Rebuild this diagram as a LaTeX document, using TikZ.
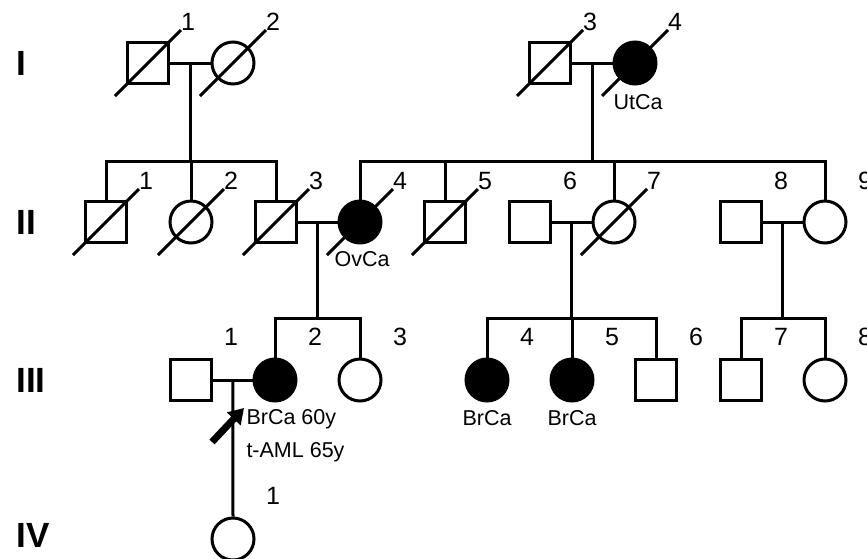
\documentclass[tikz,border=0pt]{standalone}
\usepackage{fontspec}
\setmainfont{Liberation Sans}
\usetikzlibrary{calc,arrows.meta}
\newcommand\deceased[1]{\draw ([shift={(-33,33)}]#1.center) -- ([shift={(33,-33)}]#1.center);}
\begin{document}
\begin{tikzpicture}[x=1pt,y=-1pt,line width=3pt,
  male/.style={draw,rectangle,minimum size=41pt,inner sep=0pt},
  female/.style={draw,circle,minimum size=42pt,inner sep=0pt},
  affected/.style={fill=black},
  num/.style={font=\fontsize{25}{30}\selectfont,inner sep=0pt},
  note/.style={font=\fontsize{21.5}{25}\selectfont,inner sep=0pt},
  gen/.style={font=\fontsize{35}{40}\selectfont\bfseries,inner sep=0pt,anchor=west}]
\useasboundingbox (0,0) rectangle (867,558);

% generation labels
\node[gen] (gI)   at (15,63)  {I};
\node[gen] (gII)  at (15,222) {II};
\node[gen] (gIII) at (15,380) {III};
\node[gen] (gIV)  at (15,535) {IV};

% sibship line heights
\coordinate (sII)  at (0,161);
\coordinate (sIII) at (0,318);

% generation I
\node[male]            (I1) at (148,63) {};
\node[female]          (I2) at (233,63) {};
\node[male]            (I3) at (550,63) {};
\node[female,affected] (I4) at (635,63) {};

% generation II
\node[male]            (II1) at (106,222) {};
\node[female]          (II2) at (191,222) {};
\node[male]            (II3) at (276,222) {};
\node[female,affected] (II4) at (360,222) {};
\node[male]            (II5) at (445,222) {};
\node[male]            (II6) at (530,222) {};
\node[female]          (II7) at (614,222) {};
\node[male]            (II8) at (741,222) {};
\node[female]          (II9) at (825,222) {};

% generation III
\node[male]            (III1) at (191,380) {};
\node[female,affected] (III2) at (275,380) {};
\node[female]          (III3) at (360,380) {};
\node[female,affected] (III4) at (487,380) {};
\node[female,affected] (III5) at (572,380) {};
\node[male]            (III6) at (656,380) {};
\node[male]            (III7) at (741,380) {};
\node[female]          (III8) at (825,380) {};

% generation IV
\node[female] (IV1) at (233,539) {};

% deceased marks
\foreach \p in {I1,I2,I3,I4,II1,II2,II3,II4,II5,II7} {\deceased{\p}}

% individual numbers
\foreach \p/\t in {I1/1,I2/2,I3/3,I4/4,II1/1,II2/2,II3/3,II4/4,II5/5,II6/6,II7/7,II8/8,II9/9}
  \node[num] (n\p) at ([shift={(40,-41)}]\p.center) {\t};
\foreach \p/\t in {III1/1,III2/2,III3/3,III4/4,III5/5,III6/6,III7/7,III8/8,IV1/1}
  \node[num] (n\p) at ([shift={(40,-43)}]\p.center) {\t};

% diagnoses
\node[note] (dI4)   at ([shift={(3,39)}]I4.center)   {UtCa};
\node[note] (dII4)  at ([shift={(2,37)}]II4.center)  {OvCa};
\node[note] (dIII4) at ([shift={(0,38)}]III4.center) {BrCa};
\node[note] (dIII5) at ([shift={(0,38)}]III5.center) {BrCa};
\node[note,anchor=base west] (dIII2a) at (245,424) {BrCa 60y};
\node[note,anchor=base west] (dIII2b) at (245,457) {t-AML 65y};

% couples and descent lines
\coordinate (m1) at ($(I1.east)!0.5!(I2.west)$);
\coordinate (m2) at ($(I3.east)!0.5!(I4.west)$);
\coordinate (m3) at ($(II3.east)!0.5!(II4.west)$);
\coordinate (m4) at ($(II6.east)!0.5!(II7.west)$);
\coordinate (m5) at ($(II8.east)!0.5!(II9.west)$);
\coordinate (m6) at ($(III1.east)!0.5!(III2.west)$);

\draw (I1.east) -- (I2.west);
\draw (I3.east) -- (I4.west);
\draw (II3.east) -- (II4.west);
\draw (II6.east) -- (II7.west);
\draw (II8.east) -- (II9.west);
\draw (III1.east) -- (III2.west);

\draw (m1) -- (m1 |- sII);
\draw (II1.north) |- (m1 |- sII) -| (II3.north);
\draw (II2.north) -- (II2 |- sII);

\draw (m2) -- (m2 |- sII);
\draw (II4.north) |- (m2 |- sII) -| (II9.north);
\draw (II5.north) -- (II5 |- sII);
\draw (II7.north) -- (II7 |- sII);

\draw (m3) -- (m3 |- sIII);
\draw (III2.north) |- (m3 |- sIII) -| (III3.north);

\draw (m4) -- (m4 |- sIII);
\draw (III4.north) |- (m4 |- sIII) -| (III6.north);
\draw (III5.north) -- (III5 |- sIII);

\draw (m5) -- (m5 |- sIII);
\draw (III7.north) |- (m5 |- sIII) -| (III8.north);

\draw (m6) -- (IV1.north);

% proband arrow
\coordinate (pa) at (212,442);
\coordinate (pb) at (244,408);
\draw[line width=7pt,-{Triangle[length=15pt,width=18pt]}] (pa) -- (pb);
\end{tikzpicture}
\end{document}
